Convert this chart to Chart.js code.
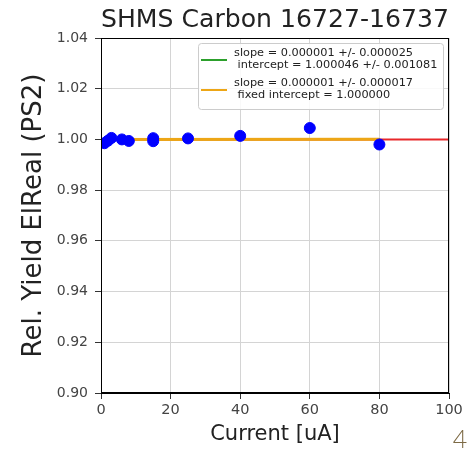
<!DOCTYPE html>
<html>
<head>
<meta charset="utf-8">
<script src="https://cdn.jsdelivr.net/npm/chart.js@4/dist/chart.umd.min.js"></script>
<style>
  html, body { margin: 0; padding: 0; background: #ffffff; }
  #wrap { width: 471px; height: 449px; position: relative; }
</style>
</head>
<body>
<div id="wrap"><canvas id="c" width="471" height="449"></canvas></div>
<script>
// ---- data ----
const currents = [1, 2, 3, 6, 8, 15, 15, 25, 40, 60, 80];
const yields   = [0.9985, 0.9995, 1.0006, 1.0000, 0.9994, 1.0005, 0.9993, 1.0004, 1.0014, 1.0045, 0.9980];

// fit lines (endpoints)
const fitFreeX = [0, 80];
const fitFreeY = [1.000046, 1.000126];
const fitFixedX = [0, 80];
const fitFixedY = [1.000000, 1.000080];
const refLineX = [0, 100];
const refLineY = [1.0, 1.0];

const xTicks = [0, 20, 40, 60, 80, 100];
const yTicks = [0.90, 0.92, 0.94, 0.96, 0.98, 1.00, 1.02, 1.04];

const chartTitle = 'SHMS Carbon 16727-16737';
const xTitle = 'Current [uA]';
const yTitle = 'Rel. Yield ElReal (PS2)';
const legendFree = ['slope = 0.000001 +/- 0.000025', ' intercept = 1.000046 +/- 0.001081'];
const legendFixed = ['slope = 0.000001 +/- 0.000017', ' fixed intercept = 1.000000'];
const pageNumber = '4';

const toPts = (xs, ys) => xs.map((x, i) => ({ x: x, y: ys[i] }));

const FONT = "'DejaVu Sans', sans-serif";

const framePlugin = {
  id: 'frame',
  afterDatasetsDraw(chart) {
    const { ctx, chartArea: a } = chart;
    ctx.save();
    ctx.strokeStyle = '#000';
    ctx.lineWidth = 1;
    ctx.strokeRect(a.left + 0.5, a.top + 0.5, a.right - a.left - 1, a.bottom - a.top - 1);
    ctx.restore();
  },
  afterDraw(chart) {
    const { ctx } = chart;
    ctx.save();
    // legend box
    const bx = 198, by = 43, bw = 245, bh = 66;
    ctx.fillStyle = 'rgba(255,255,255,0.85)';
    ctx.strokeStyle = '#cccccc';
    ctx.lineWidth = 1;
    ctx.beginPath();
    if (ctx.roundRect) ctx.roundRect(bx + 0.5, by + 0.5, bw, bh, 3); else ctx.rect(bx + 0.5, by + 0.5, bw, bh);
    ctx.fill();
    ctx.stroke();
    const entries = [
      { color: chart.data.datasets[2].borderColor, lines: legendFree, y: 60 },
      { color: chart.data.datasets[1].borderColor, lines: legendFixed, y: 90 }
    ];
    ctx.font = '11.3px ' + FONT;
    ctx.textBaseline = 'middle';
    ctx.textAlign = 'left';
    entries.forEach(e => {
      ctx.strokeStyle = e.color;
      ctx.lineWidth = 2;
      ctx.beginPath();
      ctx.moveTo(201, e.y);
      ctx.lineTo(227, e.y);
      ctx.stroke();
      ctx.fillStyle = '#222';
      ctx.fillText(e.lines[0], 234, e.y - 7);
      ctx.fillText(e.lines[1], 234, e.y + 5);
    });
    // page number
    ctx.font = "300 25px Lato, 'DejaVu Sans', sans-serif";
    ctx.fillStyle = '#7d6a45';
    ctx.textAlign = 'center';
    ctx.textBaseline = 'alphabetic';
    ctx.fillText(pageNumber, 460, 448);
    ctx.restore();
  }
};

new Chart(document.getElementById('c'), {
  type: 'scatter',
  data: {
    datasets: [
      {
        label: 'data',
        data: toPts(currents, yields),
        backgroundColor: '#0000ff',
        borderColor: '#0000ff',
        pointRadius: 5.5,
        pointHoverRadius: 5.5,
        showLine: false
      },
      {
        label: 'fixed',
        data: toPts(fitFixedX, fitFixedY),
        borderColor: '#eda616',
        borderWidth: 3,
        pointRadius: 0,
        showLine: true
      },
      {
        label: 'free',
        data: toPts(fitFreeX, fitFreeY),
        borderColor: '#2ca02c',
        borderWidth: 2,
        pointRadius: 0,
        showLine: true
      },
      {
        label: 'ref',
        data: toPts(refLineX, refLineY),
        borderColor: '#e8282b',
        borderWidth: 2,
        pointRadius: 0,
        showLine: true
      }
    ]
  },
  options: {
    responsive: false,
    animation: false,
    events: [],
    layout: { padding: { left: 0, right: 22, top: 0, bottom: 0 } },
    plugins: {
      legend: { display: false },
      tooltip: { enabled: false },
      title: {
        display: true,
        text: chartTitle,
        fullSize: false,
        color: '#222',
        font: { family: FONT, size: 25.5, weight: 'normal', lineHeight: 1.2 },
        padding: { top: 5, bottom: 2.4 }
      }
    },
    scales: {
      x: {
        type: 'linear',
        min: 0, max: 100,
        afterFit(s) { s.height = 56; },
        afterBuildTicks(s) { s.ticks = xTicks.map(v => ({ value: v })); },
        ticks: { color: '#444', font: { family: FONT, size: 14.5 }, padding: 3, maxRotation: 0 },
        grid: { color: '#d4d4d4', tickColor: '#333', tickLength: 6, lineWidth: 1 },
        border: { display: true, color: '#000' },
        title: { display: true, text: xTitle, color: '#222', font: { family: FONT, size: 21 }, padding: { top: 0, bottom: 2 } }
      },
      y: {
        type: 'linear',
        min: 0.90, max: 1.04,
        afterFit(s) { s.width = 101; },
        afterBuildTicks(s) { s.ticks = yTicks.map(v => ({ value: v })); },
        ticks: { color: '#444', font: { family: FONT, size: 14 }, padding: 7, callback: v => Number(v).toFixed(2) },
        grid: { color: '#d4d4d4', tickColor: '#333', tickLength: 6, lineWidth: 1 },
        border: { display: true, color: '#000' },
        title: { display: true, text: yTitle, color: '#222', font: { family: FONT, size: 26, lineHeight: 1.2 }, padding: { top: 19, bottom: 0 } }
      }
    }
  },
  plugins: [framePlugin]
});
</script>
</body>
</html>
